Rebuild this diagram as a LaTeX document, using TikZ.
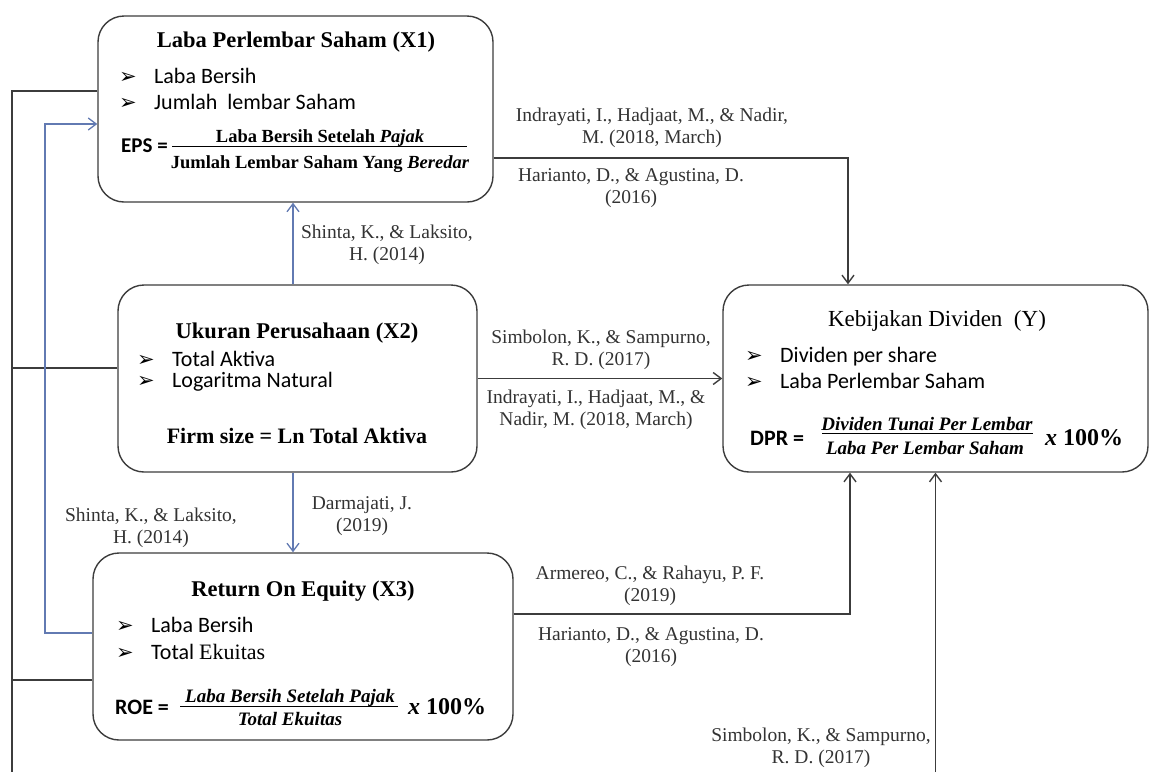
\documentclass[tikz,border=0pt]{standalone}
\usepackage{fontspec}
\setmainfont{Liberation Serif}
\newfontfamily\calib{Carlito}
\newfontfamily\tnr{Liberation Serif}
\newfontfamily\dejavu{DejaVu Sans}
\usetikzlibrary{arrows.meta}

\definecolor{linegray}{RGB}{60,60,60}
\definecolor{lineblue}{RGB}{98,122,178}
\newcommand{\bul}[1]{\makebox[35pt][l]{\dejavu\fontsize{21}{22}\selectfont ➢}#1}

\tikzset{
  box/.style={draw=linegray, line width=1.4pt, rounded corners=26pt, inner sep=0pt},
  ttl/.style={font=\fontsize{22.5}{26}\selectfont\bfseries, anchor=base, inner sep=0pt},
  itm/.style={font=\calib\fontsize{22}{26}\selectfont, anchor=base west, inner sep=0pt},
  frm/.style={font=\fontsize{#1}{22}\selectfont\bfseries, anchor=base, inner sep=0pt},
  frm/.default=19,
  lhs/.style={font=\calib\fontsize{22}{26}\selectfont\bfseries, anchor=base west, inner sep=0pt},
  lbl/.style={font=\fontsize{19.5}{22}\selectfont, align=center, text=black!80},
  link/.style={draw=linegray, line width=1.4pt},
  blink/.style={draw=lineblue, line width=1.3pt},
  arr/.style={-{Straight Barb[length=8pt,width=12pt]}}
}

\begin{document}
\begin{tikzpicture}[x=1pt, y=-1pt]
\useasboundingbox (0,0) rectangle (1152,772);

% Laba Perlembar Saham (X1)
\node[box, minimum width=395pt, minimum height=186pt] (eps) at (295.5,109) {};
\node[ttl] (epsT) at (296,47) {Laba Perlembar Saham (X1)};
\node[itm] (epsA) at (119,83) {\bul{Laba Bersih}};
\node[itm] (epsB) at (119,109) {\bul{Jumlah\ \ lembar Saham}};
\node[lhs, font=\calib\fontsize{21}{24}\selectfont\bfseries] (epsL) at (121,152) {EPS =};
\node[frm=18.5] (epsN) at (320,142) {Laba Bersih Setelah \textit{Pajak}};
\node[frm=18.5] (epsD) at (320,168) {Jumlah Lembar Saham Yang \textit{Beredar}};
\draw[line width=1pt] (172,146) -- (467,146);

% Ukuran Perusahaan (X2)
\node[box, minimum width=359pt, minimum height=187pt] (size) at (297.5,378.5) {};
\node[ttl] (sizeT) at (297,338) {Ukuran Perusahaan (X2)};
\node[itm] (sizeA) at (137,366) {\bul{Total Aktiva}};
\node[itm] (sizeB) at (137,387) {\bul{Logaritma Natural}};
\node[ttl, font=\fontsize{22}{26}\selectfont\bfseries] (sizeF) at (297,443) {Firm size = Ln Total Aktiva};

% Return On Equity (X3)
\node[box, minimum width=420pt, minimum height=187pt] (roe) at (303,646.5) {};
\node[ttl] (roeT) at (303,596) {Return On Equity (X3)};
\node[itm] (roeA) at (116,632) {\bul{Laba Bersih}};
\node[itm] (roeB) at (116,659) {\bul{Total {\tnr Ekuitas}}};
\node[lhs] (roeL) at (115,714) {ROE =};
\node[frm] (roeN) at (290,702) {\textit{Laba Bersih Setelah Pajak}};
\node[frm] (roeD) at (290,725) {\textit{Total Ekuitas}};
\draw[line width=1pt] (180,706) -- (398,706);
\node[frm=24, anchor=base west] (roeX) at (408,714) {\textit{x} 100\%};

% Kebijakan Dividen (Y)
\node[box, minimum width=425pt, minimum height=187pt] (dpr) at (935.5,378.5) {};
\node[ttl, font=\fontsize{23}{26}\selectfont] (dprT) at (937,326) {Kebijakan Dividen\ \ (Y)};
\node[itm] (dprA) at (745,362) {\bul{Dividen per share}};
\node[itm] (dprB) at (745,388) {\bul{Laba Perlembar Saham}};
\node[lhs] (dprL) at (750,445) {DPR =};
\node[frm] (dprN) at (927,430) {\textit{Dividen Tunai Per Lembar}};
\node[frm] (dprD) at (925,454) {\textit{Laba Per Lembar Saham}};
\draw[line width=1pt] (822,433) -- (1033,433);
\node[frm=24, anchor=base west] (dprX) at (1045,445) {\textit{x} 100\%};

% connectors to Y
\draw[link, arr] (eps.east |- 0,158) -| (dpr.north -| 848,0);
\draw[link, arr] (size) -- (dpr);
\draw[link, arr] (roe.east |- 0,614) -| (dpr.south -| 850,0);
\coordinate (bot) at (935.5,772);
\draw[link, arr] (bot) -- (dpr.south);

% left trunk
\coordinate (lft) at (12,772);
\draw[link] (eps.west |- 0,91) -| (lft);
\draw[link] (size.west |- 0,368) -- (lft |- 0,368);
\draw[link] (roe.west |- 0,680) -- (lft |- 0,680);

% blue links
\draw[blink, arr] (size.north -| 293,0) -- (eps.south -| 293,0);
\draw[blink, arr] (size.south -| 293,0) -- (roe.north -| 293,0);
\coordinate (bl) at (45,124);
\draw[blink, arr] (roe.west |- 0,633) -| (bl) -- (eps.west |- bl);

% labels
\node[lbl] (r1) at (652,128) {Indrayati, I., Hadjaat, M., \& Nadir,\\M. (2018, March)};
\node[lbl] (r2) at (631,188) {Harianto, D., \& Agustina, D.\\(2016)};
\node[lbl] (r3) at (387,245) {Shinta, K., \& Laksito,\\H. (2014)};
\node[lbl] (r4) at (601,350) {Simbolon, K., \& Sampurno,\\R. D. (2017)};
\node[lbl] (r5) at (596,410) {Indrayati, I., Hadjaat, M., \&\\Nadir, M. (2018, March)};
\node[lbl] (r6) at (362,516) {Darmajati, J.\\(2019)};
\node[lbl] (r7) at (151,528) {Shinta, K., \& Laksito,\\H. (2014)};
\node[lbl] (r8) at (650,586) {Armereo, C., \& Rahayu, P. F.\\(2019)};
\node[lbl] (r9) at (651,647) {Harianto, D., \& Agustina, D.\\(2016)};
\node[lbl] (r10) at (821,748) {Simbolon, K., \& Sampurno,\\R. D. (2017)};
\end{tikzpicture}
\end{document}
